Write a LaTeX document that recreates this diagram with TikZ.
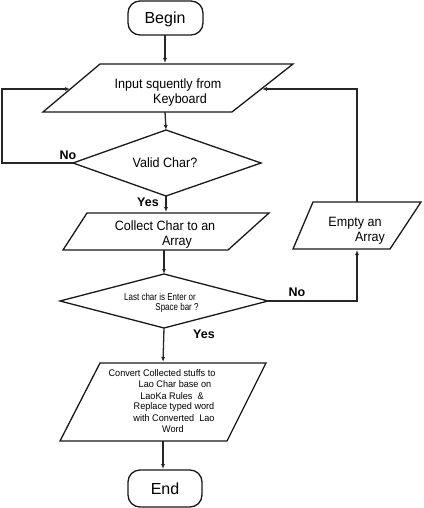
\documentclass[tikz,border=0pt]{standalone}
\usepackage{fontspec}
\setmainfont{Liberation Sans}
\newfontfamily\condA[FakeStretch=0.93]{Liberation Sans}
\newfontfamily\condB[FakeStretch=0.8]{Liberation Sans}
\newfontfamily\condC[FakeStretch=0.95]{Liberation Sans}
\usetikzlibrary{arrows.meta}
\begin{document}
\begin{tikzpicture}[x=1pt,y=-1pt,
  shapeline/.style={draw=black!90,line width=1.3pt,line join=miter},
  termbox/.style={draw=black!90,line width=1.3pt,rounded corners=12pt},
  conn/.style={draw=black!85,line width=1.3pt,-{Latex[length=5pt,width=4pt]}},
  plain/.style={draw=black!85,line width=1.3pt},
  bigtxt/.style={font=\fontsize{16}{18}\selectfont,inner sep=0pt},
  midtxt/.style={font=\condA\fontsize{13.5}{15}\selectfont,inner sep=0pt},
  smalltxt/.style={font=\condB\fontsize{10}{11}\selectfont,inner sep=0pt},
  convtxt/.style={font=\condC\fontsize{9.6}{11}\selectfont,inner sep=0pt},
  lbl/.style={font=\bfseries\fontsize{12.5}{14}\selectfont,inner sep=0pt}]
\useasboundingbox[fill=white] (0,0) rectangle (423,508);

% Begin
\draw[termbox] (128,1) rectangle (203,35);
\node[bigtxt] (begin) at (165,19) {Begin};
\coordinate (beginB) at (165,35);

% Input
\coordinate (inTL) at (100,64);
\coordinate (inTR) at (293,64);
\coordinate (inBR) at (232,112);
\coordinate (inBL) at (43,112);
\draw[shapeline] (inTL) -- (inTR) -- (inBR) -- (inBL) -- cycle;
\node[midtxt] (in1) at (168,85) {Input squently from};
\node[midtxt] (in2) at (180,100) {Keyboard};
\coordinate (inT) at (165,63);
\coordinate (inB) at (165,112);
\coordinate (inL) at (70,89);
\coordinate (inR) at (262,89);

% Valid Char diamond
\coordinate (vaT) at (166,130);
\coordinate (vaR) at (261,163);
\coordinate (vaB) at (166,196);
\coordinate (vaL) at (73,163);
\draw[shapeline] (vaT) -- (vaR) -- (vaB) -- (vaL) -- cycle;
\node[midtxt] (valid) at (165,163) {Valid Char?};

% Collect
\coordinate (coTL) at (87,213);
\coordinate (coTR) at (269,213);
\coordinate (coBR) at (228,250);
\coordinate (coBL) at (63,250);
\draw[shapeline] (coTL) -- (coTR) -- (coBR) -- (coBL) -- cycle;
\node[midtxt] (co1) at (165,226) {Collect Char to an};
\node[midtxt] (co2) at (177,242) {Array};
\coordinate (coT) at (166,212);
\coordinate (coB) at (164,250);

% Empty
\coordinate (emTL) at (313,202);
\coordinate (emTR) at (421,202);
\coordinate (emBR) at (390,249);
\coordinate (emBL) at (293,249);
\draw[shapeline] (emTL) -- (emTR) -- (emBR) -- (emBL) -- cycle;
\node[midtxt] (em1) at (355,223) {Empty an};
\node[midtxt] (em2) at (370,238) {Array};
\coordinate (emT) at (357,202);
\coordinate (emB) at (357,250);

% Last char diamond
\coordinate (laT) at (164,274);
\coordinate (laR) at (268,301);
\coordinate (laB) at (164,328);
\coordinate (laL) at (60,301);
\draw[shapeline] (laT) -- (laR) -- (laB) -- (laL) -- cycle;
\node[smalltxt] (la1) at (160,297) {Last char is Enter or};
\node[smalltxt] (la2) at (177,308) {Space bar ?};

% Convert
\coordinate (cvTL) at (100,363);
\coordinate (cvTR) at (266,363);
\coordinate (cvBR) at (227,441);
\coordinate (cvBL) at (60,441);
\draw[shapeline] (cvTL) -- (cvTR) -- (cvBR) -- (cvBL) -- cycle;
\node[convtxt] (cv1) at (162,373) {Convert Collected stuffs to};
\node[convtxt] (cv2) at (175,384) {Lao Char base on};
\node[convtxt] (cv3) at (172,396) {LaoKa Rules\ \ \&};
\node[convtxt] (cv4) at (174,407) {Replace typed word};
\node[convtxt] (cv5) at (174,418) {with Converted\ \ Lao};
\node[convtxt] (cv6) at (173,429) {Word};
\coordinate (cvT) at (163,362);
\coordinate (cvB) at (163,441);

% End
\draw[termbox] (128,470) rectangle (202,507);
\node[bigtxt] (end) at (165,489) {End};
\coordinate (endT) at (163,469);

% corner points
\coordinate (c1) at (2,163);
\coordinate (c2) at (2,89);
\coordinate (c3) at (357,301);
\coordinate (c4) at (357,89);

% connectors
\draw[conn] (beginB) -- (inT);
\draw[conn] (inB) -- (vaT);
\draw[conn] (vaL) -- (c1) -- (c2) -- (inL);
\draw[conn] (vaB) -- (coT);
\draw[conn] (coB) -- (laT);
\draw[conn] (laR) -- (c3) -- (emB);
\draw[conn] (emT) -- (c4) -- (inR);
\draw[conn] (laB) -- (cvT);
\draw[conn] (cvB) -- (endT);

% labels
\node[lbl] (no1) at (68,155) {No};
\node[lbl] (yes1) at (148,202) {Yes};
\node[lbl] (no2) at (297,292) {No};
\node[lbl] (yes2) at (204,334) {Yes};
\end{tikzpicture}
\end{document}
